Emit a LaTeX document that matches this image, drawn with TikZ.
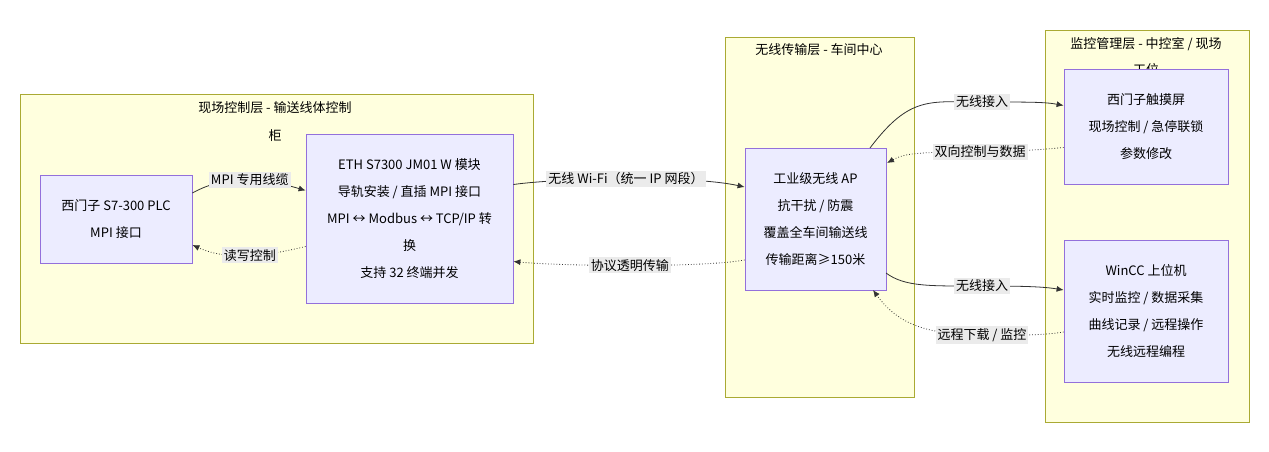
\documentclass[tikz,border=0pt]{standalone}
\usepackage{fontspec}
\setmainfont{Noto Sans CJK SC}
\usetikzlibrary{arrows.meta}
\definecolor{clfill}{HTML}{FFFFDE}
\definecolor{cldraw}{HTML}{AAAA33}
\definecolor{nfill}{HTML}{ECECFF}
\definecolor{ndraw}{HTML}{9370DB}
\begin{document}
\begin{tikzpicture}[x=1pt,y=-1pt,
  font=\fontsize{13}{27}\selectfont,
  cluster/.style={draw=cldraw, fill=clfill, line width=0.8pt},
  box/.style={draw=ndraw, fill=nfill, line width=0.8pt, align=center, inner sep=0pt},
  edge/.style={draw=black!80, line width=0.8pt, -{Latex[length=7pt,width=6pt]}},
  dot/.style={edge, dotted},
  lab/.style={fill=black!8, inner sep=2pt, font=\fontsize{13}{15}\selectfont}]
\useasboundingbox (0,0) rectangle (1269,452);
\draw[cluster] (20,94) rectangle (533,343);
\draw[cluster] (725,37) rectangle (914,397);
\draw[cluster] (1045,30) rectangle (1249,422);
\node (t1) at (275,108) {现场控制层 - 输送线体控制};
\node (t1b) at (275,136) {柜};
\node (t2) at (819,50) {无线传输层 - 车间中心};
\node (t3) at (1146,44) {监控管理层 - 中控室 / 现场};
\node (t3b) at (1146,70) {工位};
\node[box, minimum width=152, minimum height=88] (plc) at (116,219) {西门子 S7-300 PLC\\MPI 接口};
\node[box, minimum width=207, minimum height=169] (eth) at (409.5,218.5) {ETH S7300 JM01 W 模块\\导轨安装 / 直插 MPI 接口\\MPI ↔ Modbus ↔ TCP/IP 转\\换\\支持 32 终端并发};
\node[box, minimum width=141, minimum height=142] (ap) at (815.5,219) {工业级无线 AP\\抗干扰 / 防震\\覆盖全车间输送线\\传输距离≥150米};
\node[box, minimum width=164, minimum height=115] (hmi) at (1146,126.5) {西门子触摸屏\\现场控制 / 急停联锁\\参数修改};
\node[box, minimum width=164, minimum height=142] (wincc) at (1146,311) {WinCC 上位机\\实时监控 / 数据采集\\曲线记录 / 远程操作\\无线远程编程};
\draw[edge] ([yshift=26]plc.east) .. controls (230,172) and (270,180) .. ([yshift=28]eth.west)
  node[lab, pos=0.5] {MPI 专用线缆};
\draw[dot] ([yshift=-28]eth.west) .. controls (270,255) and (230,262) .. ([yshift=-26]plc.east)
  node[lab, pos=0.5] {读写控制};
\draw[edge] ([yshift=34]eth.east) .. controls (560,178) and (690,175) .. ([yshift=32]ap.west)
  node[lab, pos=0.5] {无线 Wi-Fi（统一 IP 网段）};
\draw[dot] ([yshift=-41]ap.west) .. controls (700,268) and (560,266) .. ([yshift=-43]eth.east)
  node[lab, pos=0.5] {协议透明传输};
\draw[edge] (870,148) .. controls (910,95) and (930,102) .. (982,102) .. controls (1030,102) and (1045,102) .. ([yshift=21]hmi.west)
  node[lab, pos=0] {无线接入};
\draw[dot] ([yshift=-21]hmi.west) .. controls (1040,150) and (1000,152) .. (980,152) .. controls (920,152) and (905,153) .. (887,163)
  node[lab, pos=0] {双向控制与数据};
\draw[edge] (886,273) .. controls (905,287) and (930,286) .. (982,286) .. controls (1030,286) and (1045,287) .. ([yshift=21]wincc.west)
  node[lab, pos=0] {无线接入};
\draw[dot] ([yshift=-21]wincc.west) .. controls (1040,336) and (1010,335) .. (982,335) .. controls (920,335) and (895,320) .. (873,290)
  node[lab, pos=0] {远程下载 / 监控};
\end{tikzpicture}
\end{document}
